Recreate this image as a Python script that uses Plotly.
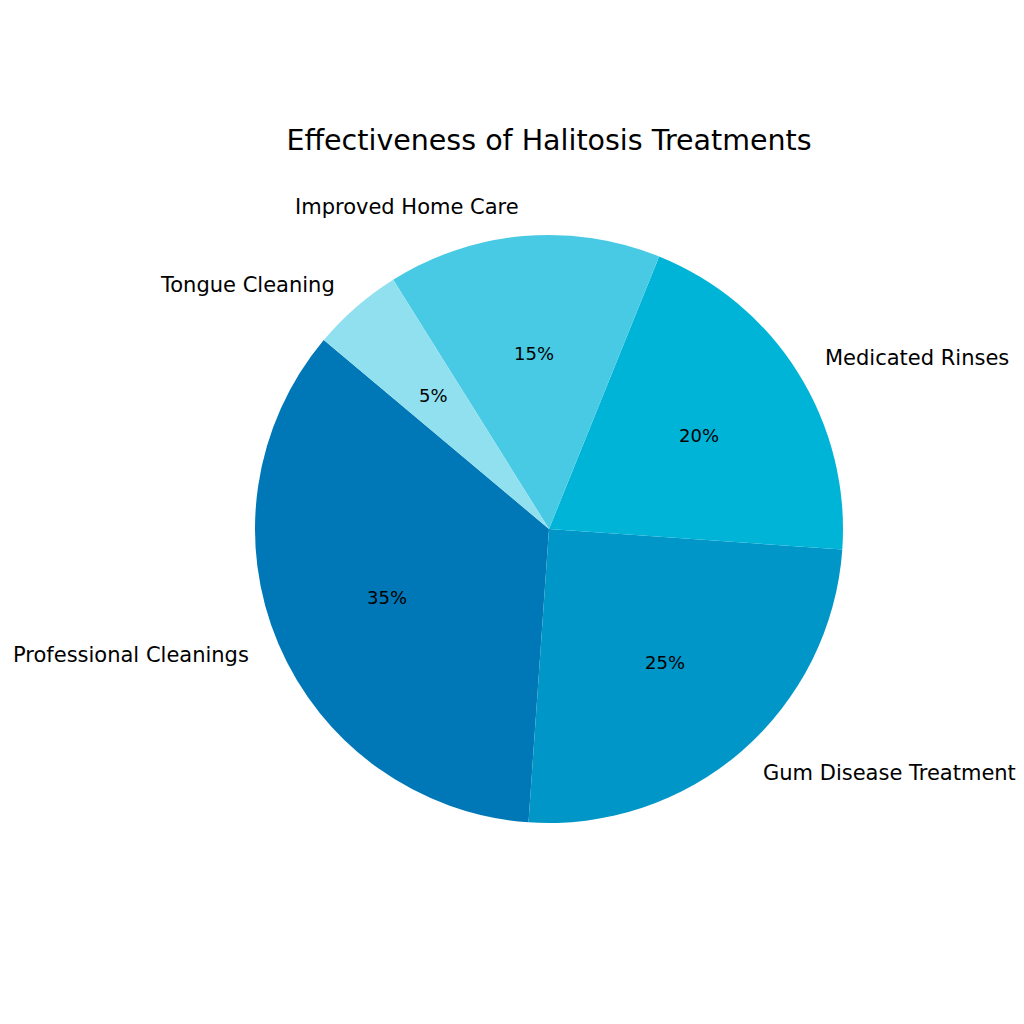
import math
import plotly.graph_objects as go

labels = ["Professional Cleanings", "Gum Disease Treatment", "Medicated Rinses",
          "Improved Home Care", "Tongue Cleaning"]
values = [35, 25, 20, 15, 5]
colors = ["#0077b6", "#0096c7", "#00b4d8", "#48cae4", "#90e0ef"]

font_family = "DejaVu Sans"
start_angle = 140  # degrees, counterclockwise from 3 o'clock (matplotlib-style)

fig = go.Figure()
fig.add_trace(go.Pie(
    labels=labels, values=values, sort=False, direction="counterclockwise",
    rotation=90 - (start_angle + 360 * values[0] / sum(values)),
    marker=dict(colors=colors, line=dict(width=0)),
    textinfo="none", showlegend=False, hoverinfo="label+percent",
))

# label (at 1.1 r) and percentage (at 0.6 r) text, positioned from the data
total = sum(values)
cum = 0
annotations = []
for lab, v in zip(labels, values):
    theta = math.radians(start_angle + 360 * (cum + v / 2) / total)
    cum += v
    cx, cy = math.cos(theta), math.sin(theta)
    annotations.append(dict(
        x=0.5 + 0.5 * 1.1 * cx, y=0.5 + 0.5 * 1.1 * cy, xref="paper", yref="paper",
        text=lab, showarrow=False, xanchor="left" if cx > 0 else "right", yanchor="middle",
        font=dict(family=font_family, size=21, color="black"),
    ))
    annotations.append(dict(
        x=0.5 + 0.5 * 0.6 * cx, y=0.5 + 0.5 * 0.6 * cy, xref="paper", yref="paper",
        text=f"{100 * v / total:.0f}%", showarrow=False, xanchor="center", yanchor="middle",
        font=dict(family=font_family, size=18, color="black"),
    ))

fig.update_layout(
    width=1024, height=1024,
    margin=dict(l=247, r=189, t=227, b=209),
    paper_bgcolor="white", plot_bgcolor="white",
    title=dict(text="Effectiveness of Halitosis Treatments", x=541 / 1024, xanchor="center",
               y=1 - 132 / 1024, yanchor="middle", yref="container",
               font=dict(family=font_family, size=28.5, color="black")),
    font=dict(family=font_family),
    annotations=annotations,
)

fig.write_html("out.html")
